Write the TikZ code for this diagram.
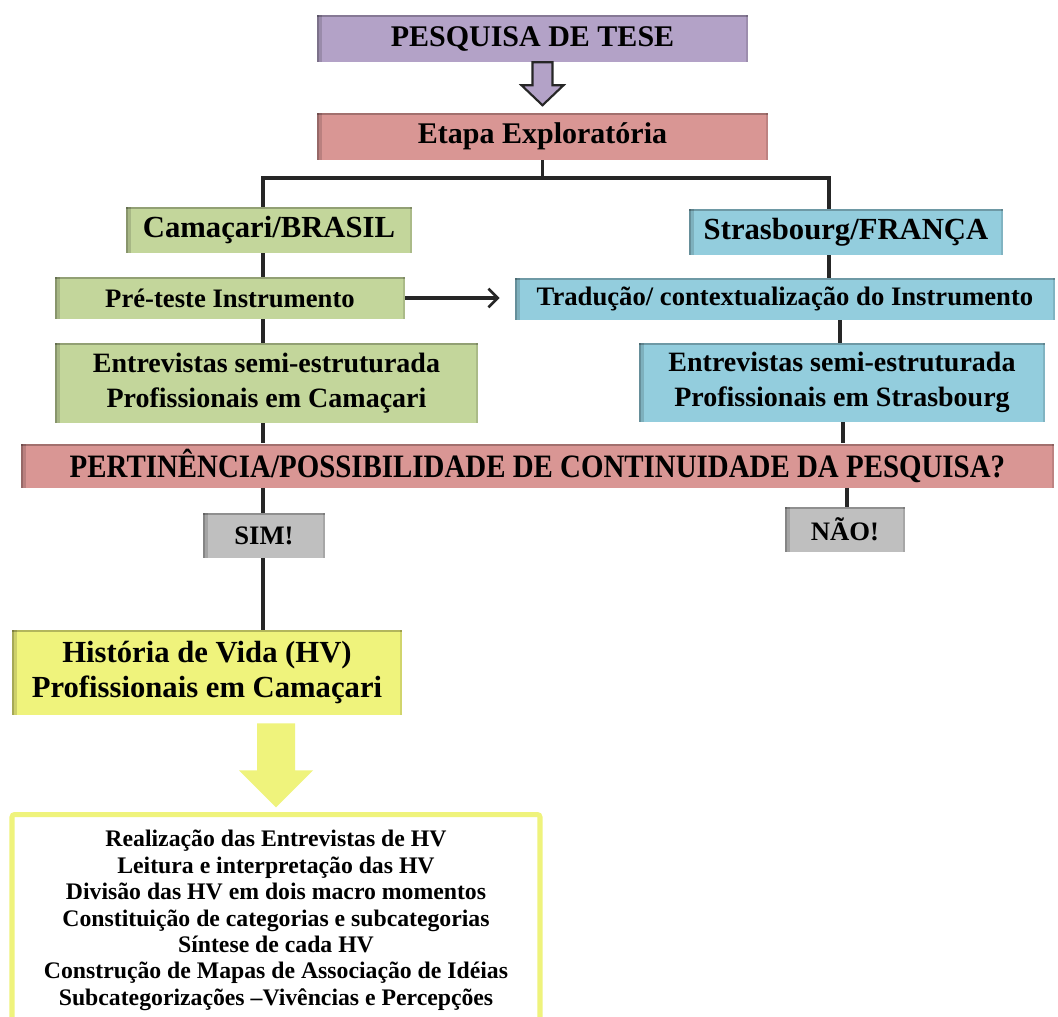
\documentclass[tikz,border=0pt]{standalone}
\usepackage{fontspec}
\setmainfont{Liberation Serif}
\usetikzlibrary{calc,arrows.meta}

\definecolor{purpleF}{HTML}{B3A2C7}
\definecolor{pinkF}{HTML}{D99694}
\definecolor{greenF}{HTML}{C3D69B}
\definecolor{blueF}{HTML}{93CDDD}
\definecolor{grayF}{HTML}{BFBFBF}
\definecolor{yellowF}{HTML}{EFF37C}
\definecolor{lineC}{HTML}{262626}

\newcommand{\fsz}[2]{\fontsize{#1}{#2}\selectfont\bfseries}

\tikzset{
  wh/.style 2 args={minimum width=#1*0.75pt, minimum height=#2*0.75pt},
  box/.style={rectangle, fill=#1, inner sep=0pt, align=center, text=black,
    path picture={
      \fill[black,opacity=.30] (path picture bounding box.north west) rectangle ([xshift=1.6pt]path picture bounding box.south west);
      \fill[black,opacity=.14] ([xshift=1.6pt]path picture bounding box.north west) rectangle ([xshift=3.4pt]path picture bounding box.south west);
      \fill[black,opacity=.25] (path picture bounding box.north west) rectangle ([yshift=-1.6pt]path picture bounding box.north east);
      \fill[black,opacity=.12] (path picture bounding box.north east) rectangle ([xshift=-1.5pt]path picture bounding box.south east);
    }},
  conn/.style={draw=lineC, line width=2.6pt},
  blockarrow/.style={fill=#1, draw=lineC, line width=1.6pt, line join=miter},
}

\begin{document}
\begin{tikzpicture}[x=0.75pt, y=-0.75pt]
\useasboundingbox[fill=white] (0,0) rectangle (1058,1017);

% top of the chart
\node[box=purpleF, wh={431}{47}, font=\fsz{22.5}{26}] (tese) at (532.5,38.5) {PESQUISA DE TESE};
\node[box=pinkF, wh={451}{47}, font=\fsz{22.5}{26}] (etapa) at (542.5,136.5) {Etapa Exploratória};

% the two places
\node[box=greenF, wh={286}{46}, font=\fsz{23}{27}] (cam) at (269,230) {Camaçari/BRASIL};
\node[box=blueF, wh={314}{46}, font=\fsz{23}{27}] (stras) at (846,232) {Strasbourg/FRANÇA};

\node[box=greenF, wh={350}{42}, font=\fsz{20}{24}] (pre) at (230,298) {Pré-teste Instrumento};
\node[box=blueF, wh={540}{42}, font=\fsz{20}{24}] (trad) at (785,299) {Tradução/ contextualização do Instrumento};

\node[box=greenF, wh={423}{80}, font=\fsz{21}{26}] (entC) at (266.5,383) {Entrevistas semi-estruturada\\Profissionais em Camaçari};
\node[box=blueF, wh={406}{79}, font=\fsz{21}{26}] (entS) at (842,382.5) {Entrevistas semi-estruturada\\Profissionais em Strasbourg};

% decision
\node[box=pinkF, wh={1033}{44}, font=\fsz{24.5}{28}] (pert) at (537.5,465.5) {\scalebox{0.885}[1]{PERTINÊNCIA/POSSIBILIDADE DE CONTINUIDADE DA PESQUISA?}};
\node[box=grayF, wh={122}{45}, font=\fsz{20}{24}] (sim) at (264,535.5) {SIM!};
\node[box=grayF, wh={120}{45}, font=\fsz{20}{24}] (nao) at (845,529.5) {NÃO!};

% life stories
\node[box=yellowF, wh={390}{85}, font=\fsz{23}{26.5}] (hist) at (207,672.5) {História de Vida (HV)\\Profissionais em Camaçari};

\node[rectangle, draw=yellowF, line width=3.8pt, rounded corners=2pt, fill=white,
      wh={528}{212}, anchor=north, align=center, inner sep=0pt, font=\fsz{17.8}{19.8}] (list) at (276,812)
  {Realização das Entrevistas de HV\\
   Leitura e interpretação das HV\\
   Divisão das HV em dois macro momentos\\
   Constituição de categorias e subcategorias\\
   Síntese de cada HV\\
   Construção de Mapas de Associação de Idéias\\
   Subcategorizações –Vivências e Percepções};

% junction points of the connectors
\coordinate (jL) at (263,178);
\coordinate (jR) at (829,178);
\coordinate (r2) at (840,0);
\coordinate (r3) at (843,0);
\coordinate (r4) at (847,0);

\draw[conn] (etapa.south) -- (etapa.south |- jL);
\draw[conn] (cam.north -| jL) -- (jL) -- (jR) -- (stras.north -| jR);

\draw[conn] (cam.south -| jL) -- (pre.north -| jL);
\draw[conn] (pre.south -| jL) -- (entC.north -| jL);
\draw[conn] (entC.south -| jL) -- (pert.north -| jL);
\draw[conn] (pert.south -| jL) -- (sim.north -| jL);
\draw[conn] (sim.south -| jL) -- (hist.north -| jL);

\draw[conn] (stras.south -| jR) -- (trad.north -| jR);
\draw[conn] (trad.south -| r2) -- (entS.north -| r2);
\draw[conn] (entS.south -| r3) -- (pert.north -| r3);
\draw[conn] (pert.south -| r4) -- (nao.north -| r4);

\draw[conn, -{Straight Barb[length=7pt,width=14pt,line width=2pt]}]
  (pre.east) -- ($(trad.west |- pre.east)+(-15,0)$);

% hollow block arrow between the first two boxes
\draw[blockarrow=purpleF] ($(tese.south -| etapa.north)+(-10,0)$) -- ++(0,23) -- ++(-11,0)
  -- ++(21,20) -- ++(21,-20) -- ++(-11,0) -- ++(0,-23) -- cycle;

% solid block arrow into the list of steps
\fill[yellowF] ($(hist.south -| list.north)+(-19,8)$) -- ++(0,47) -- ++(-18,0)
  -- ++(37,37) -- ++(37,-37) -- ++(-18,0) -- ++(0,-47) -- cycle;
\end{tikzpicture}
\end{document}
